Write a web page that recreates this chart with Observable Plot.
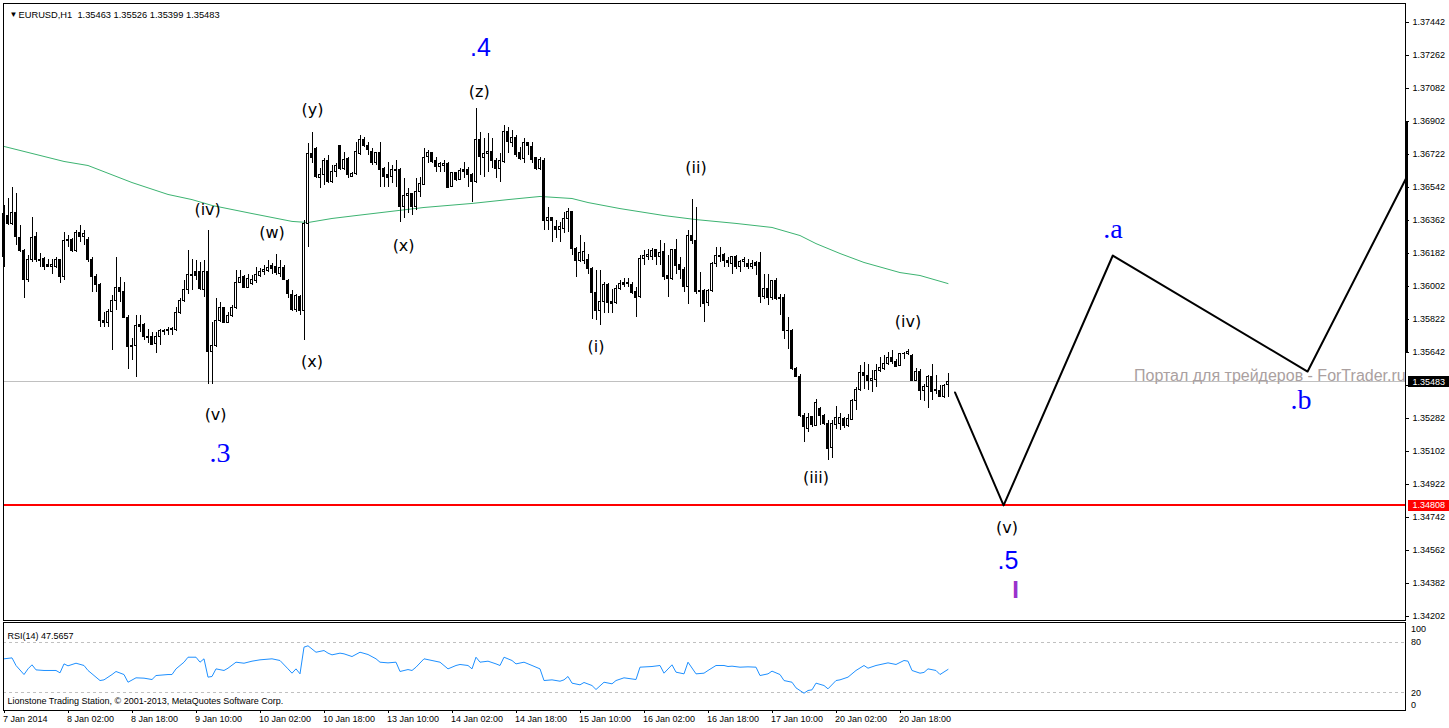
<!DOCTYPE html>
<html><head><meta charset="utf-8">
<script src="https://cdn.jsdelivr.net/npm/d3@7"></script>
<script src="https://cdn.jsdelivr.net/npm/@observablehq/plot@0.6"></script>
<style>
body{margin:0;background:#fff;}
#chart svg{display:block;}
</style></head><body><div id="chart"></div>
<script>
// ---- EURUSD H1 candles (index 0 = 7 Jan 2014 first bar) ----
const opens = [
1.36161,1.36389,1.36343,1.36403,1.36267,1.36198,1.36038,1.36147,1.36274,1.36143,
1.36152,1.36121,1.36110,1.36110,1.36149,1.36052,1.36256,1.36256,1.36194,1.36292,
1.36271,1.36258,1.36149,1.36052,1.36012,1.35816,1.35801,1.35861,1.35925,1.35994,
1.35970,1.35830,1.35670,1.35675,1.35794,1.35794,1.35728,1.35728,1.35688,1.35728,
1.35752,1.35757,1.35770,1.35767,1.35857,1.35921,1.35985,1.36061,1.36083,1.36083,
1.35985,1.36080,1.35643,1.35675,1.35816,1.35883,1.35801,1.35843,1.35885,1.36019,
1.36052,1.35994,1.36016,1.36034,1.36061,1.36080,1.36085,1.36114,1.36110,1.36070,
1.36103,1.36034,1.35958,1.35874,1.35943,1.35870,1.36344,1.36726,1.36753,1.36595,
1.36608,1.36689,1.36571,1.36626,1.36766,1.36644,1.36698,1.36602,1.36617,1.36726,
1.36802,1.36771,1.36735,1.36675,1.36730,1.36644,1.36608,1.36599,1.36638,1.36638,
1.36435,1.36498,1.36504,1.36435,1.36517,1.36558,1.36708,1.36730,1.36689,1.36653,
1.36662,1.36671,1.36544,1.36620,1.36584,1.36635,1.36635,1.36608,1.36571,1.36802,
1.36704,1.36726,1.36735,1.36686,1.36644,1.36680,1.36844,1.36784,1.36813,1.36730,
1.36698,1.36784,1.36762,1.36704,1.36644,1.36689,1.36358,1.36376,1.36329,1.36311,
1.36317,1.36371,1.36407,1.36206,1.36143,1.36143,1.36146,1.36097,1.35964,1.35866,
1.35915,1.36012,1.35915,1.35910,1.35988,1.36021,1.36021,1.36012,1.35970,1.35946,
1.36152,1.36164,1.36164,1.36201,1.36161,1.36188,1.36061,1.36043,1.36201,1.36121,
1.36092,1.35997,1.36279,1.36252,1.35970,1.35979,1.35910,1.35979,1.36124,1.36170,
1.36175,1.36142,1.36124,1.36164,1.36106,1.36133,1.36124,1.36106,1.36130,1.36128,
1.35946,1.35988,1.35942,1.36030,1.35942,1.35942,1.35761,1.35761,1.35552,1.35510,
1.35297,1.35224,1.35288,1.35242,1.35333,1.35297,1.35251,1.35120,1.35248,1.35251,
1.35279,1.35242,1.35273,1.35379,1.35437,1.35528,1.35515,1.35484,1.35492,1.35539,
1.35552,1.35579,1.35610,1.35592,1.35570,1.35633,1.35636,1.35625,1.35488,1.35537,
1.35430,1.35452,1.35506,1.35437,1.35433,1.35401,1.35463];
const highs = [
1.36444,1.36480,1.36544,1.36507,1.36334,1.36205,1.36171,1.36380,1.36298,1.36180,
1.36161,1.36147,1.36152,1.36161,1.36152,1.36298,1.36280,1.36262,1.36307,1.36334,
1.36307,1.36267,1.36161,1.36070,1.36016,1.35861,1.35879,1.35952,1.36158,1.36052,
1.36025,1.35843,1.35716,1.35843,1.35843,1.35798,1.35770,1.35752,1.35752,1.35770,
1.35770,1.35779,1.35776,1.35888,1.35934,1.36034,1.36198,1.36152,1.36143,1.36134,
1.36143,1.36307,1.35807,1.35939,1.35916,1.35888,1.35861,1.35898,1.36089,1.36089,
1.36061,1.36070,1.36061,1.36107,1.36098,1.36116,1.36143,1.36125,1.36176,1.36143,
1.36116,1.36038,1.35979,1.35961,1.35952,1.36362,1.36780,1.36844,1.36762,1.36644,
1.36698,1.36717,1.36662,1.36671,1.36770,1.36735,1.36708,1.36626,1.36790,1.36826,
1.36817,1.36790,1.36753,1.36735,1.36790,1.36653,1.36680,1.36662,1.36689,1.36644,
1.36589,1.36535,1.36510,1.36589,1.36598,1.36753,1.36744,1.36735,1.36708,1.36680,
1.36689,1.36680,1.36626,1.36626,1.36644,1.36680,1.36653,1.36617,1.36972,1.36844,
1.36808,1.36835,1.36808,1.36698,1.36726,1.36881,1.36871,1.36853,1.36826,1.36762,
1.36808,1.36790,1.36790,1.36708,1.36708,1.36698,1.36435,1.36380,1.36362,1.36353,
1.36407,1.36425,1.36412,1.36215,1.36279,1.36243,1.36179,1.36106,1.36088,1.36092,
1.36024,1.36019,1.35988,1.36006,1.36037,1.36048,1.36043,1.36024,1.35997,1.36170,
1.36197,1.36206,1.36212,1.36206,1.36255,1.36234,1.36170,1.36206,1.36261,1.36161,
1.36106,1.36306,1.36479,1.36434,1.36079,1.35985,1.35988,1.36133,1.36215,1.36215,
1.36183,1.36161,1.36164,1.36170,1.36146,1.36161,1.36152,1.36142,1.36140,1.36188,
1.36070,1.36070,1.36037,1.36043,1.35961,1.35961,1.35834,1.35765,1.35561,1.35524,
1.35310,1.35310,1.35292,1.35388,1.35342,1.35306,1.35270,1.35270,1.35346,1.35310,
1.35288,1.35306,1.35388,1.35452,1.35570,1.35588,1.35579,1.35543,1.35579,1.35615,
1.35624,1.35643,1.35652,1.35606,1.35637,1.35643,1.35661,1.35630,1.35557,1.35552,
1.35470,1.35515,1.35574,1.35515,1.35461,1.35466,1.35526];
const lows = [
1.36107,1.36334,1.36334,1.36225,1.36189,1.35939,1.36025,1.36134,1.36134,1.36107,
1.36092,1.36103,1.36067,1.36098,1.36019,1.36034,1.36216,1.36189,1.36189,1.36243,
1.36225,1.36134,1.35970,1.35970,1.35779,1.35779,1.35779,1.35652,1.35870,1.35916,
1.35825,1.35552,1.35597,1.35506,1.35752,1.35706,1.35692,1.35679,1.35637,1.35679,
1.35734,1.35734,1.35734,1.35757,1.35852,1.35916,1.35961,1.35979,1.36034,1.35979,
1.35943,1.35470,1.35466,1.35670,1.35807,1.35798,1.35798,1.35834,1.35879,1.36016,
1.35989,1.35989,1.36007,1.36016,1.36052,1.36061,1.36080,1.36070,1.36061,1.36052,
1.36034,1.35939,1.35867,1.35861,1.35843,1.35706,1.36216,1.36671,1.36589,1.36535,
1.36553,1.36562,1.36562,1.36598,1.36635,1.36635,1.36589,1.36595,1.36608,1.36717,
1.36762,1.36717,1.36662,1.36662,1.36540,1.36544,1.36544,1.36562,1.36544,1.36353,
1.36371,1.36398,1.36389,1.36416,1.36489,1.36553,1.36671,1.36671,1.36626,1.36626,
1.36626,1.36535,1.36540,1.36577,1.36580,1.36589,1.36544,1.36462,1.36566,1.36608,
1.36598,1.36626,1.36644,1.36589,1.36571,1.36671,1.36726,1.36762,1.36708,1.36689,
1.36671,1.36717,1.36671,1.36635,1.36635,1.36307,1.36307,1.36244,1.36262,1.36244,
1.36289,1.36297,1.36170,1.36052,1.36133,1.36124,1.36070,1.35824,1.35819,1.35788,
1.35855,1.35855,1.35855,1.35905,1.35979,1.35999,1.35997,1.35961,1.35833,1.35938,
1.36115,1.36142,1.36142,1.36115,1.36115,1.36033,1.35942,1.36037,1.36070,1.36042,
1.35970,1.35906,1.36230,1.35961,1.35888,1.35806,1.35891,1.35970,1.36106,1.36133,
1.36106,1.36106,1.36070,1.36097,1.36079,1.36106,1.36097,1.36097,1.36061,1.35910,
1.35933,1.35897,1.35924,1.35924,1.35842,1.35715,1.35661,1.35543,1.35506,1.35288,
1.35151,1.35206,1.35233,1.35237,1.35242,1.35242,1.35051,1.35066,1.35224,1.35219,
1.35230,1.35233,1.35270,1.35324,1.35432,1.35442,1.35433,1.35424,1.35452,1.35533,
1.35546,1.35570,1.35579,1.35561,1.35564,1.35606,1.35624,1.35484,1.35484,1.35379,
1.35375,1.35339,1.35379,1.35412,1.35397,1.35393,1.35399];
const closes = [
1.36398,1.36343,1.36403,1.36271,1.36198,1.36038,1.36147,1.36267,1.36147,1.36149,
1.36107,1.36110,1.36120,1.36147,1.36052,1.36252,1.36249,1.36194,1.36292,1.36274,
1.36289,1.36149,1.36052,1.36012,1.35816,1.35801,1.35861,1.35925,1.35994,1.35970,
1.35830,1.35670,1.35679,1.35785,1.35779,1.35725,1.35721,1.35685,1.35728,1.35761,
1.35761,1.35767,1.35765,1.35857,1.35921,1.35985,1.36065,1.36067,1.36061,1.35989,
1.36080,1.35643,1.35675,1.35816,1.35883,1.35801,1.35843,1.35883,1.36019,1.36049,
1.35994,1.36043,1.36038,1.36065,1.36080,1.36092,1.36103,1.36098,1.36074,1.36103,
1.36038,1.35961,1.35874,1.35952,1.35870,1.36343,1.36726,1.36704,1.36598,1.36608,
1.36689,1.36571,1.36626,1.36657,1.36644,1.36693,1.36608,1.36617,1.36735,1.36802,
1.36771,1.36744,1.36675,1.36730,1.36638,1.36602,1.36595,1.36638,1.36633,1.36435,
1.36498,1.36507,1.36435,1.36517,1.36562,1.36704,1.36730,1.36680,1.36653,1.36668,
1.36671,1.36540,1.36620,1.36584,1.36631,1.36626,1.36608,1.36571,1.36802,1.36708,
1.36726,1.36735,1.36686,1.36644,1.36686,1.36844,1.36790,1.36813,1.36722,1.36698,
1.36784,1.36766,1.36693,1.36644,1.36693,1.36360,1.36376,1.36358,1.36311,1.36325,
1.36371,1.36407,1.36206,1.36143,1.36183,1.36188,1.36097,1.35964,1.35866,1.35915,
1.36012,1.35910,1.35906,1.35988,1.36015,1.36012,1.36015,1.35964,1.35942,1.36152,
1.36170,1.36175,1.36197,1.36161,1.36183,1.36055,1.36043,1.36201,1.36115,1.36092,
1.35997,1.36279,1.36252,1.35970,1.35979,1.35906,1.35979,1.36124,1.36170,1.36161,
1.36142,1.36128,1.36161,1.36106,1.36133,1.36146,1.36106,1.36124,1.36116,1.35946,
1.35988,1.35942,1.36033,1.35933,1.35933,1.35757,1.35757,1.35552,1.35510,1.35297,
1.35233,1.35284,1.35248,1.35364,1.35297,1.35251,1.35115,1.35251,1.35284,1.35284,
1.35242,1.35279,1.35379,1.35437,1.35528,1.35515,1.35488,1.35497,1.35543,1.35557,
1.35579,1.35610,1.35588,1.35564,1.35633,1.35636,1.35643,1.35488,1.35537,1.35430,
1.35455,1.35506,1.35424,1.35433,1.35401,1.35461,1.35483];

// moving average read at a subset of bars [bar index, price]
const maPoints = [[0,1.36766],[15,1.36684],[21,1.36662],[32,1.36569],[41,1.36504],[47,1.36476],[52,1.36444],[62,1.36400],[72,1.36357],[76,1.36351],[82,1.36373],[88,1.36389],[105,1.36433],[117,1.36455],[126,1.36476],[134,1.36493],[142,1.36482],[146,1.36460],[154,1.36427],[165,1.36389],[173,1.36367],[183,1.36346],[192,1.36324],[199,1.36280],[203,1.36236],[209,1.36182],[215,1.36133],[224,1.36078],[229,1.36062],[236,1.36018]];

// RSI(14) read at a subset of bars [bar index, value]
const rsiPoints = [[0,60.1],[2,61.2],[3,52.2],[5,41.5],[6,48.2],[7,53.0],[8,47.0],[10,46.3],[13,46.3],[14,43.5],[15,54.1],[16,51.8],[18,54.9],[20,52.2],[21,46.3],[24,34.4],[25,35.2],[27,41.5],[28,45.1],[30,41.5],[31,32.4],[33,37.6],[35,37.2],[37,35.6],[38,40.3],[41,41.5],[42,41.5],[43,48.2],[45,56.1],[46,62.0],[48,62.0],[49,56.1],[50,60.1],[51,38.4],[52,39.2],[53,48.2],[55,46.3],[56,49.0],[58,56.1],[60,54.9],[62,57.3],[64,58.9],[67,60.1],[69,58.1],[71,48.2],[72,43.1],[73,48.2],[74,42.3],[75,73.9],[76,75.5],[78,67.9],[80,69.9],[81,66.8],[82,64.8],[84,66.8],[85,66.0],[87,62.8],[89,67.9],[91,65.2],[93,60.1],[94,56.1],[96,55.3],[98,56.1],[99,45.1],[101,47.4],[102,46.3],[103,50.2],[105,60.1],[107,58.1],[109,56.1],[111,48.2],[113,52.2],[114,53.4],[116,52.2],[117,48.2],[118,62.0],[119,56.1],[121,57.3],[123,54.1],[124,52.2],[125,62.0],[127,58.1],[128,54.1],[130,56.1],[132,52.2],[134,48.2],[135,34.4],[137,35.2],[139,33.6],[140,35.2],[141,39.2],[142,31.3],[144,29.3],[145,32.1],[147,28.5],[148,23.8],[150,32.4],[152,30.5],[153,34.4],[155,37.6],[158,35.6],[159,50.2],[162,51.0],[164,52.2],[165,43.1],[167,53.0],[168,44.3],[170,42.3],[171,56.1],[173,42.3],[175,43.1],[176,46.3],[178,52.2],[180,52.2],[181,51.0],[182,51.4],[184,50.2],[186,50.6],[188,50.2],[189,40.3],[191,42.3],[192,45.5],[194,41.5],[195,34.4],[197,32.4],[198,25.7],[200,19.4],[201,22.6],[202,23.4],[203,31.3],[205,28.5],[206,24.6],[208,34.4],[209,35.2],[211,38.4],[213,46.3],[215,52.2],[216,49.0],[218,52.2],[221,55.3],[223,53.4],[225,58.1],[226,57.3],[227,46.3],[229,43.1],[230,44.0],[231,48.2],[233,46.3],[234,41.5],[236,47.5657]];

// projected wave path [bar index, price]
const projection = [[237.75,1.35424],[249.9,1.34808],[277.2,1.36171],[325.9,1.35538],[350.5,1.36591]];

const priceTicks = [1.37442,1.37262,1.37082,1.36902,1.36722,1.36542,1.36362,1.36182,1.36002,1.35822,1.35642,1.35462,1.35282,1.35102,1.34922,1.34742,1.34562,1.34382,1.34202];
const timeTickBars = [0,16,32,48,64,80,96,112,128,144,160,176,192,208,224];
const timeTickLabels = ["7 Jan 2014","8 Jan 02:00","8 Jan 18:00","9 Jan 10:00","10 Jan 02:00","10 Jan 18:00","13 Jan 10:00","14 Jan 02:00","14 Jan 18:00","15 Jan 10:00","16 Jan 02:00","16 Jan 18:00","17 Jan 10:00","20 Jan 02:00","20 Jan 18:00"];

const bidPrice = 1.35483;
const targetLevel = 1.34808;
const markerRange = [1.36902, 1.35642];

const waveLabels = [
  {i:50.9, p:1.36422, t:"(iv)"}, {i:67, p:1.36294, t:"(w)"}, {i:77.1, p:1.36967, t:"(y)"},
  {i:77, p:1.35593, t:"(x)"}, {i:99.9, p:1.36224, t:"(x)"}, {i:118.8, p:1.37066, t:"(z)"},
  {i:52.9, p:1.35304, t:"(v)"}, {i:148, p:1.35675, t:"(i)"}, {i:173, p:1.36648, t:"(ii)"},
  {i:203, p:1.34957, t:"(iii)"}, {i:226, p:1.35811, t:"(iv)"}, {i:250.75, p:1.34687, t:"(v)"}
];
const blueSans = [{i:119.1, p:1.37304, t:".4"}, {i:251, p:1.34507, t:".5"}];
const blueSerif = [{i:54, p:1.35093, t:".3"}, {i:277.25, p:1.36318, t:".a"}, {i:324.25, p:1.35385, t:".b"}];
const degreeMark = [{i:252.9, p:1.34344, t:"I"}];
const watermark = [{i:282.5, p:1.35514, t:"Портал для трейдеров - ForTrader.ru"}];
const header = "EURUSD,H1\u00a0\u00a01.35463 1.35526 1.35399 1.35483";
const rsiTitle = "RSI(14) 47.5657";
const copyright = "Lionstone Trading Station, © 2001-2013, MetaQuotes Software Corp.";

const candles = opens.map((o, i) => ({i, o, h: highs[i], l: lows[i], c: closes[i]}));
const up = candles.filter(d => d.c >= d.o);
const down = candles.filter(d => d.c < d.o);
// the bid box hides the tick label that sits under it
const visibleTickLabels = priceTicks.filter(t => Math.abs(t - bidPrice) > 0.0004);

const W = 1449;
const SANS = "Liberation Sans, Arial, sans-serif";
const CRISP = "crispEdges";
const xScale = {type: "linear", domain: [0, 350], range: [3.5, 1403.5], axis: null};

const main = Plot.plot({
  width: W, height: 621,
  marginLeft: 3, marginRight: 44, marginTop: 3, marginBottom: 1,
  style: {background: "white", fontFamily: SANS, overflow: "visible"},
  x: xScale,
  y: {domain: [1.34202, 1.37442], range: [616, 22], axis: null},
  marks: [
    Plot.ruleY([bidPrice], {stroke: "#c0c0c0", shapeRendering: CRISP}),
    Plot.ruleY([targetLevel], {stroke: "#ff0000", strokeWidth: 2, shapeRendering: CRISP}),
    Plot.line(maPoints, {x: d => d[0], y: d => d[1], stroke: "#3cb371", strokeWidth: 1}),
    Plot.ruleX(candles, {x: "i", y1: "l", y2: "h", stroke: "black", shapeRendering: CRISP}),
    Plot.rect(up, {x1: d => d.i - 0.25, x2: d => d.i + 0.25, y1: "o", y2: "c", fill: "white", stroke: "black", shapeRendering: CRISP}),
    Plot.rect(down, {x1: d => d.i - 0.25, x2: d => d.i + 0.25, y1: "o", y2: "c", fill: "black", stroke: "black", shapeRendering: CRISP}),
    Plot.line(projection, {x: d => d[0], y: d => d[1], stroke: "black", strokeWidth: 2}),
    Plot.text(watermark, {x: "i", y: "p", text: "t", textAnchor: "start", fill: "#aaa0a0", fontSize: 16, fontFamily: SANS}),
    Plot.text(waveLabels, {x: "i", y: "p", text: "t", fill: "black", fontSize: 16, fontFamily: "DejaVu Sans"}),
    Plot.text(blueSans, {x: "i", y: "p", text: "t", fill: "#0000ff", fontSize: 25, fontFamily: SANS}),
    Plot.text(blueSerif, {x: "i", y: "p", text: "t", fill: "#0000ff", fontSize: 28, fontFamily: "Liberation Serif, Times New Roman, serif"}),
    Plot.text(degreeMark, {x: "i", y: "p", text: "t", fill: "#9932cc", fontSize: 24, fontWeight: "bold", fontFamily: SANS}),
    Plot.frame({stroke: "black", shapeRendering: CRISP}),
    Plot.ruleX([350.6], {y1: markerRange[0], y2: markerRange[1], stroke: "black", strokeWidth: 3, shapeRendering: CRISP}),
    Plot.ruleY(priceTicks, {x1: 350.4, x2: 351.4, stroke: "black", shapeRendering: CRISP}),
    Plot.text(visibleTickLabels, {x: 352.1, y: d => d, text: d => d.toFixed(5), textAnchor: "start", fontSize: 9, fill: "black"}),
    Plot.ruleY([bidPrice], {x1: 351.0, x2: 361.5, stroke: "black", strokeWidth: 11, shapeRendering: CRISP}),
    Plot.text([bidPrice], {x: 352.1, y: d => d, text: d => d.toFixed(5), textAnchor: "start", fontSize: 9, fill: "white"}),
    Plot.ruleY([targetLevel], {x1: 351.1, x2: 361.6, stroke: "#ff0000", strokeWidth: 11, shapeRendering: CRISP}),
    Plot.text([targetLevel], {x: 352.1, y: d => d, text: d => d.toFixed(5), textAnchor: "start", fontSize: 9, fill: "white"}),
    Plot.text(["▼"], {frameAnchor: "top-left", dx: 6, dy: 7.5, text: d => d, fontSize: 8, fill: "black"}),
    Plot.text([header], {frameAnchor: "top-left", dx: 15, dy: 7.5, text: d => d, textAnchor: "start", fontSize: 9.3, fill: "black"})
  ]
});

const rsi = Plot.plot({
  width: W, height: 107,
  marginLeft: 3, marginRight: 44, marginTop: 1, marginBottom: 18,
  style: {background: "white", fontFamily: SANS, overflow: "visible"},
  x: xScale,
  y: {domain: [0, 100], range: [88.1, 3.6], axis: null},
  marks: [
    Plot.ruleY([80, 20], {stroke: "#c0c0c0", strokeDasharray: "3,3", shapeRendering: CRISP}),
    Plot.line(rsiPoints, {x: d => d[0], y: d => d[1], stroke: "#1e90ff", strokeWidth: 1}),
    Plot.frame({stroke: "black", shapeRendering: CRISP}),
    Plot.text([rsiTitle], {frameAnchor: "top-left", dx: 4, dy: 9.7, text: d => d, textAnchor: "start", fontSize: 9, fill: "black"}),
    Plot.text([copyright], {frameAnchor: "bottom-left", dx: 4, dy: -6.7, text: d => d, textAnchor: "start", fontSize: 9, fill: "black"}),
    Plot.text([100], {x: 351.75, y: d => d, dy: 4.5, text: d => String(d), textAnchor: "start", fontSize: 9, fill: "black"}),
    Plot.text([80, 20], {x: 351.75, y: d => d, text: d => String(d), textAnchor: "start", fontSize: 9, fill: "black"}),
    Plot.text([0], {x: 351.75, y: d => d, dy: -4.5, text: d => String(d), textAnchor: "start", fontSize: 9, fill: "black"}),
    Plot.ruleX(timeTickBars, {x: d => d, y1: -1.2, y2: -4.8, stroke: "black", shapeRendering: CRISP}),
    Plot.text(timeTickBars, {x: d => d, y: -10.8, dx: -1, text: (d, i) => timeTickLabels[i], textAnchor: "start", fontSize: 9, fill: "black"})
  ]
});

const host = document.getElementById("chart");
host.appendChild(main);
host.appendChild(rsi);
</script>
</body></html>
